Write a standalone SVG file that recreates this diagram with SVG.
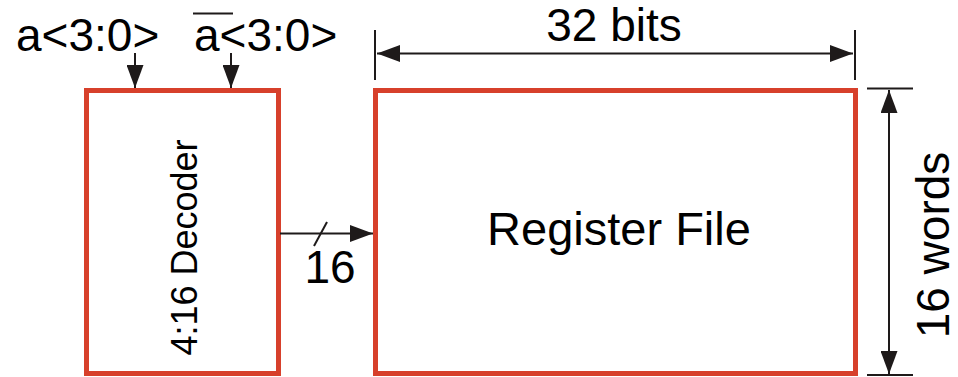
<svg xmlns="http://www.w3.org/2000/svg" width="958" height="377" viewBox="0 0 958 377">
<style>
.box{fill:#fff;stroke:#D7402B;stroke-width:5}
.ln{stroke:#1e1a1a;stroke-width:2;fill:none}
.t{font-family:"Liberation Sans",Arial,sans-serif;fill:#000}
</style>
<defs>
<marker id="ah" markerWidth="23" markerHeight="17" refX="23" refY="8.5" orient="auto" markerUnits="userSpaceOnUse">
<path d="M0,0 L23,8.5 L0,17 Z" fill="#1e1a1a"/>
</marker>
</defs>
<rect width="958" height="377" fill="#fff"/>
<g id="decoder">
<rect class="box" x="86.5" y="90.5" width="192" height="283"/>
<text class="t" font-size="36" text-anchor="middle" transform="translate(197,247.5) rotate(-90)">4:16 Decoder</text>
</g>
<g id="regfile">
<rect class="box" x="375.5" y="90.5" width="480" height="283"/>
<text class="t" font-size="47" text-anchor="middle" x="619" y="245">Register File</text>
</g>
<g id="labels">
<text class="t" font-size="46" x="16" y="51">a&lt;3:0&gt;</text>
<text class="t" font-size="46" x="194" y="51">a&lt;3:0&gt;</text>
<line class="ln" x1="193" y1="13.5" x2="233" y2="13.5"/>
<text class="t" font-size="46" text-anchor="middle" x="614" y="41">32 bits</text>
<text class="t" font-size="46" text-anchor="middle" transform="translate(949,245) rotate(-90)">16 words</text>
<text class="t" font-size="46" text-anchor="middle" x="330" y="283">16</text>
</g>
<g id="connectors">
<line class="ln" x1="135" y1="53" x2="135" y2="88" marker-end="url(#ah)"/>
<line class="ln" x1="231" y1="53" x2="231" y2="88" marker-end="url(#ah)"/>
<line class="ln" x1="280" y1="233.5" x2="373" y2="233.5" marker-end="url(#ah)"/>
<line class="ln" x1="314" y1="246" x2="327" y2="222"/>
<line class="ln" x1="375" y1="30" x2="375" y2="80"/>
<line class="ln" x1="855" y1="30" x2="855" y2="80"/>
<line class="ln" x1="600" y1="53.5" x2="377" y2="53.5" marker-end="url(#ah)"/>
<line class="ln" x1="600" y1="53.5" x2="853" y2="53.5" marker-end="url(#ah)"/>
<line class="ln" x1="867" y1="88.5" x2="913" y2="88.5"/>
<line class="ln" x1="867" y1="375" x2="913" y2="375"/>
<line class="ln" x1="889" y1="230" x2="889" y2="90" marker-end="url(#ah)"/>
<line class="ln" x1="889" y1="230" x2="889" y2="374" marker-end="url(#ah)"/>
</g>
</svg>
